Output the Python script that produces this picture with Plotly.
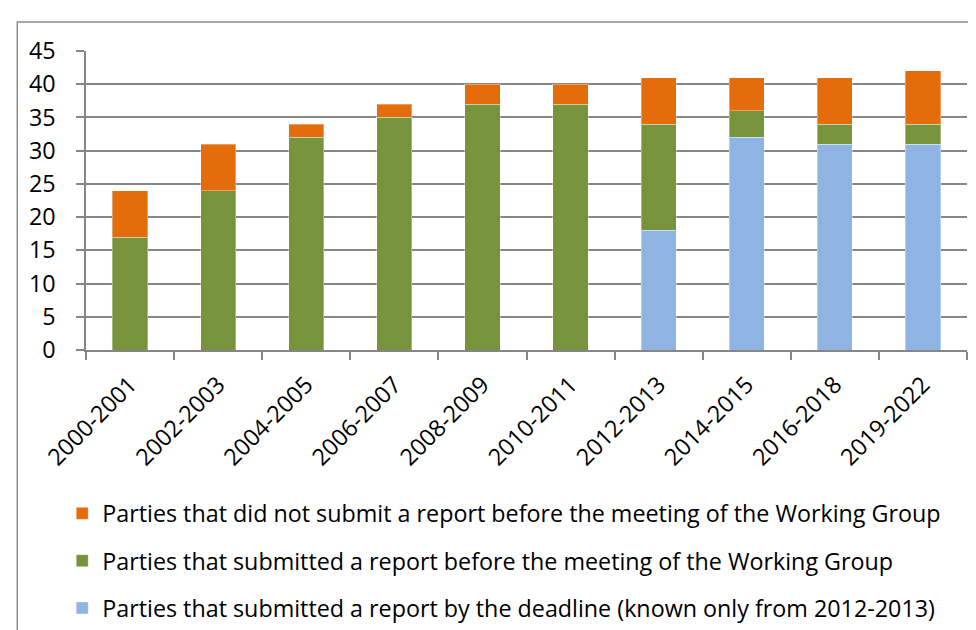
import plotly.graph_objects as go

periods = ["2000-2001", "2002-2003", "2004-2005", "2006-2007", "2008-2009",
           "2010-2011", "2012-2013", "2014-2015", "2016-2018", "2019-2022"]
by_deadline = [0, 0, 0, 0, 0, 0, 18, 32, 31, 31]
before_meeting = [17, 24, 32, 35, 37, 37, 16, 4, 3, 3]
not_submitted = [7, 7, 2, 2, 3, 3, 7, 5, 7, 8]

name_orange = "Parties that did not submit a report before the meeting of the Working Group"
name_green = "Parties that submitted a report before the meeting of the Working Group"
name_blue = "Parties that submitted a report by the deadline (known only from 2012-2013)"

FONT = "Open Sans"
FS = 23.3

fig = go.Figure()
fig.add_trace(go.Bar(x=periods, y=by_deadline, name=name_blue, legendgroup="c", legendrank=3,
                     marker=dict(color="#8EB4E3", line=dict(color="rgba(255,255,255,0.35)", width=1))))
fig.add_trace(go.Bar(x=periods, y=before_meeting, name=name_green, legendgroup="b", legendrank=2,
                     marker=dict(color="#77933C", line=dict(color="rgba(255,255,255,0.35)", width=1))))
fig.add_trace(go.Bar(x=periods, y=not_submitted, name=name_orange, legendgroup="a", legendrank=1,
                     marker=dict(color="#E46C0A", line=dict(color="rgba(255,255,255,0.35)", width=1))))

fig.update_layout(
    template="none",
    barmode="stack",
    bargap=0.6,
    width=976, height=630,
    margin=dict(l=78, r=17, t=43, b=288, autoexpand=False),
    paper_bgcolor="white", plot_bgcolor="white",
    font=dict(family=FONT, size=FS, color="black"),
    showlegend=True,
    legend=dict(orientation="v", x=-0.027, xanchor="left", y=-0.474, yanchor="top",
                traceorder="grouped", tracegroupgap=14, font=dict(size=FS, family=FONT),
                bgcolor="rgba(0,0,0,0)", borderwidth=0),
    shapes=[dict(type="rect", xref="paper", yref="paper", x0=-0.078, x1=1.1, y0=-1.2, y1=1.097,
                 line=dict(color="#8c8c8c", width=1.5), layer="below")],
)
fig.update_xaxes(automargin=False, showline=True, linecolor="#868686", linewidth=1.5,
                 ticks="outside", tickson="boundaries", ticklen=8, tickcolor="#868686", tickwidth=1.5,
                 tickangle=-45, tickfont=dict(size=FS, family=FONT), ticklabelstandoff=10,
                 showgrid=False, zeroline=False)
fig.update_yaxes(automargin=False, range=[0, 45], dtick=5, showline=True, linecolor="#868686", linewidth=1.5,
                 ticks="outside", ticklen=8, tickcolor="#868686", tickwidth=1.5,
                 showgrid=True, gridcolor="#868686", gridwidth=1.5, zeroline=False,
                 tickfont=dict(size=FS, family=FONT), ticklabelstandoff=16)

fig.write_html("out.html")
